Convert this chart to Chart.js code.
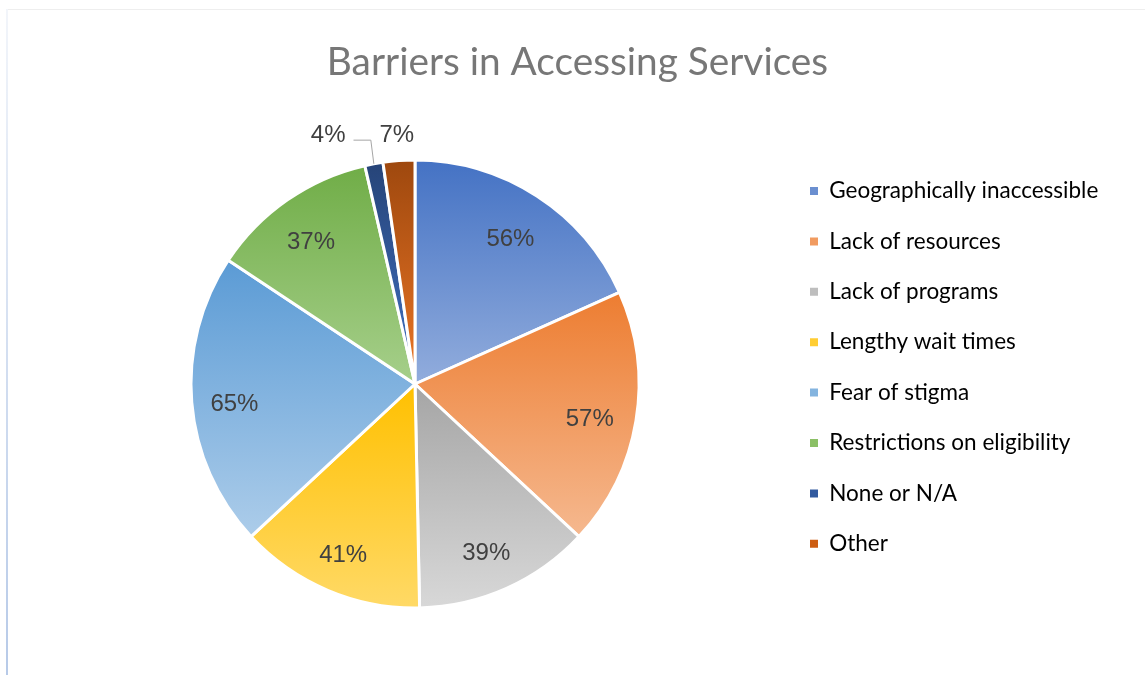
<!DOCTYPE html>
<html>
<head>
<meta charset="utf-8">
<script src="https://cdn.jsdelivr.net/npm/chart.js@4.4.1/dist/chart.umd.min.js"></script>
<style>
  html, body { margin: 0; padding: 0; background: #fff; }
  #wrap { width: 1145px; height: 675px; position: relative; }
</style>
</head>
<body>
<div id="wrap"><canvas id="myChart"></canvas></div>
<script>
// survey answers, one slice each
var categories = [
  "Geographically inaccessible",
  "Lack of resources",
  "Lack of programs",
  "Lengthy wait times",
  "Fear of stigma",
  "Restrictions on eligibility",
  "None or N/A",
  "Other"
];
var percents = [56, 57, 39, 41, 65, 37, 4, 7];
var sliceColors = ["#4472C4", "#ED7D31", "#A5A5A5", "#FFC000", "#5B9BD5", "#70AD47", "#264478", "#9E480E"];

var PIE_RADIUS = 224;

// hex -> [h, s, l]
function toHsl(hex) {
  var r = parseInt(hex.substr(1, 2), 16) / 255;
  var g = parseInt(hex.substr(3, 2), 16) / 255;
  var b = parseInt(hex.substr(5, 2), 16) / 255;
  var max = Math.max(r, g, b), min = Math.min(r, g, b);
  var h = 0, s = 0, l = (max + min) / 2;
  if (max !== min) {
    var d = max - min;
    s = l > 0.5 ? d / (2 - max - min) : d / (max + min);
    if (max === r) h = (g - b) / d + (g < b ? 6 : 0);
    else if (max === g) h = (b - r) / d + 2;
    else h = (r - g) / d + 4;
    h *= 60;
  }
  return [h, s * 100, l * 100];
}
function lighter(hex, amt) {
  var c = toHsl(hex);
  return "hsl(" + c[0].toFixed(1) + "," + c[1].toFixed(1) + "%," + Math.min(c[2] + amt, 95).toFixed(1) + "%)";
}

// vertical gradient over each slice, dark at its top, light at its bottom
function sliceFill(context) {
  var chart = context.chart;
  var i = context.dataIndex;
  var area = chart.chartArea;
  if (!area || i === undefined) return sliceColors[i] || sliceColors[0];
  var cx = (area.left + area.right) / 2, cy = (area.top + area.bottom) / 2;
  var total = 0, before = 0;
  percents.forEach(function(v, k) { total += v; if (k < i) before += v; });
  var a0 = -Math.PI / 2 + before / total * Math.PI * 2;
  var a1 = a0 + percents[i] / total * Math.PI * 2;
  var ys = [cy, cy + PIE_RADIUS * Math.sin(a0), cy + PIE_RADIUS * Math.sin(a1)];
  [-Math.PI / 2, Math.PI / 2, Math.PI * 1.5].forEach(function(k) {
    if (k >= a0 && k <= a1) ys.push(cy + PIE_RADIUS * Math.sin(k));
  });
  var top = Math.min.apply(null, ys), bottom = Math.max.apply(null, ys);
  var g = chart.ctx.createLinearGradient(0, top, 0, bottom);
  g.addColorStop(0, sliceColors[i]);
  g.addColorStop(1, lighter(sliceColors[i], 20));
  return g;
}

// thin frame lines along the top and left edge
var frame = {
  id: 'frame',
  beforeDraw: function(chart) {
    var ctx = chart.ctx;
    ctx.save();
    ctx.fillStyle = '#fff';
    ctx.fillRect(0, 0, chart.width, chart.height);
    ctx.fillStyle = '#eeeeee';
    ctx.fillRect(7, 9, chart.width - 7, 1);
    var g = ctx.createLinearGradient(0, 9, 0, chart.height);
    g.addColorStop(0, '#f2f5fa');
    g.addColorStop(1, '#b7cae8');
    ctx.fillStyle = g;
    ctx.fillRect(6, 9, 2, chart.height - 9);
    ctx.restore();
  }
};

// percent labels: inside big slices, outside small ones with a leader line
var sliceLabels = {
  id: 'sliceLabels',
  afterDatasetsDraw: function(chart) {
    var ctx = chart.ctx;
    var meta = chart.getDatasetMeta(0);
    ctx.save();
    ctx.font = '24px "Liberation Sans", Arial, sans-serif';
    ctx.fillStyle = '#404040';
    ctx.textAlign = 'center';
    ctx.textBaseline = 'middle';
    var outside = [];
    meta.data.forEach(function(arc, i) {
      var p = arc.getProps(['x', 'y', 'startAngle', 'endAngle', 'outerRadius']);
      var mid = (p.startAngle + p.endAngle) / 2;
      var text = percents[i] + '%';
      if (percents[i] >= 10) {
        var r = p.outerRadius * 0.8;
        ctx.fillText(text, p.x + Math.cos(mid) * r - 2, p.y + Math.sin(mid) * r + 6);
      } else {
        var ro = p.outerRadius + 29;
        outside.push({
          text: text,
          x: p.x + Math.cos(mid) * ro,
          y: p.y + Math.sin(mid) * ro,
          ex: p.x + Math.cos(mid) * p.outerRadius,
          ey: p.y + Math.sin(mid) * p.outerRadius,
          w: ctx.measureText(text).width
        });
      }
    });
    // push a crowded label sideways and tie it back with a line
    for (var k = outside.length - 2; k >= 0; k--) {
      var a = outside[k], b = outside[k + 1];
      if (a.x + a.w / 2 > b.x - b.w / 2 - 4) {
        a.x = b.x - b.w / 2 - 34 - a.w / 2;
        a.y = b.y;
        a.leader = true;
      }
    }
    outside.forEach(function(o) {
      if (o.leader) {
        ctx.strokeStyle = '#a6a6a6';
        ctx.lineWidth = 1;
        ctx.beginPath();
        ctx.moveTo(o.x + o.w / 2 + 8, o.y + 8.5);
        ctx.lineTo(o.ex - 3, o.y + 8.5);
        ctx.lineTo(o.ex, o.ey);
        ctx.stroke();
      }
      ctx.fillText(o.text, o.x, o.y + 3.5);
    });
    ctx.restore();
  }
};

var ctx = document.getElementById("myChart").getContext('2d');
var myChart = new Chart(ctx, {
  type: 'pie',
  data: {
    labels: categories,
    datasets: [{
      data: percents,
      backgroundColor: sliceFill,
      borderColor: '#ffffff',
      borderWidth: 3
    }]
  },
  options: {
    responsive: true,
    maintainAspectRatio: false,
    animation: false,
    events: [],
    radius: PIE_RADIUS,
    layout: { padding: { left: 47.9, right: 37.9, top: 0, bottom: 58.85 } },
    plugins: {
      tooltip: { enabled: false },
      title: {
        display: true,
        text: 'Barriers in Accessing Services',
        color: '#777777',
        font: { family: 'Lato', size: 38.8, weight: 'normal' },
        padding: { top: 38.72, bottom: 66.57 }
      },
      legend: {
        position: 'right',
        align: 'start',
        fullSize: false,
        maxWidth: 325,
        labels: {
          boxWidth: 8,
          boxHeight: 8,
          padding: 27.9,
          color: '#595959',
          font: { family: 'Lato', size: 22.5 },
          generateLabels: function(chart) {
            return categories.map(function(name, i) {
              var c = lighter(sliceColors[i], 10);
              return { text: name, fillStyle: c, strokeStyle: c, lineWidth: 0, hidden: false, index: i };
            });
          }
        }
      }
    }
  },
  plugins: [frame, sliceLabels]
});
</script>
</body>
</html>
